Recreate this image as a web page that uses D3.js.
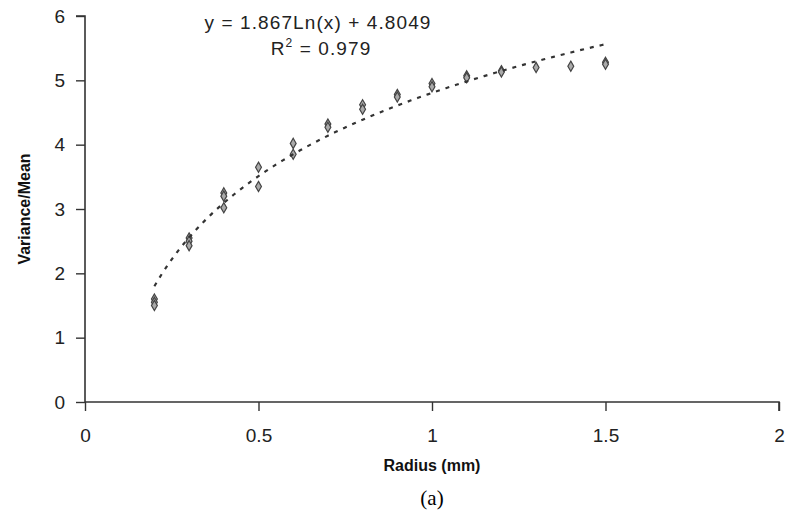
<!DOCTYPE html>
<html>
<head>
<meta charset="utf-8">
<script src="https://cdn.jsdelivr.net/npm/d3@7"></script>
<style>
  body { margin: 0; background: #fff; }
  svg { display: block; }
</style>
</head>
<body>
<div id="chart"></div>
<script>
// Variance/Mean vs radius, with Excel-style log trendline

const radius = [0.2, 0.2, 0.2, 0.3, 0.3, 0.3, 0.4, 0.4, 0.4, 0.5, 0.5, 0.6, 0.6,
                0.7, 0.7, 0.8, 0.8, 0.9, 0.9, 1.0, 1.0, 1.1, 1.1, 1.2, 1.2, 1.3, 1.4, 1.5, 1.5];
const ratio  = [1.60, 1.55, 1.50, 2.55, 2.50, 2.43, 3.25, 3.20, 3.02, 3.65, 3.35, 4.02, 3.85,
                4.32, 4.27, 4.62, 4.55, 4.78, 4.74, 4.95, 4.90, 5.07, 5.04, 5.15, 5.13, 5.20, 5.22, 5.28, 5.25];

const xTicks = [0, 0.5, 1, 1.5, 2];
const yTicks = [0, 1, 2, 3, 4, 5, 6];

const fitA = 1.867, fitB = 4.8049;
const fitLabel = "y = 1.867Ln(x) + 4.8049";
const r2Label  = "0.979";

const W = 790, H = 521;
const m = { top: 16, right: 11, bottom: 119, left: 85 };
const iw = W - m.left - m.right;
const ih = H - m.top - m.bottom;

const x = d3.scaleLinear().domain([0, 2]).range([0, iw]);
const y = d3.scaleLinear().domain([0, 6]).range([ih, 0]);

const svg = d3.select("#chart").append("svg")
  .attr("width", W).attr("height", H);

const g = svg.append("g").attr("transform", `translate(${m.left},${m.top})`);

const font = "'Liberation Sans', Arial, sans-serif";

// axes
const xAxis = g.append("g")
  .attr("transform", `translate(0,${ih})`)
  .call(d3.axisBottom(x).tickValues(xTicks).tickFormat(d3.format("")).tickSize(9).tickPadding(18));
const yAxis = g.append("g")
  .call(d3.axisLeft(y).tickValues(yTicks).tickFormat(d3.format("d")).tickSize(9).tickPadding(11));

[xAxis, yAxis].forEach(ax => {
  ax.select(".domain").attr("stroke", "#333").attr("stroke-width", 1.6);
  ax.selectAll(".tick line").attr("stroke", "#333").attr("stroke-width", 1.4);
  ax.selectAll("text")
    .attr("fill", "#222")
    .attr("font-size", "19px")
    .attr("font-family", font);
});
xAxis.select(".domain").attr("d", `M0,0H${iw}V9`);
yAxis.select(".domain").attr("d", `M-9,0H0V${ih}`);

// trendline
const fitX = d3.range(0.2, 1.5001, 0.01);
const line = d3.line()
  .x(d => x(d))
  .y(d => y(fitA * Math.log(d) + fitB));

// points
const sym = d3.symbol().type(d3.symbolDiamond).size(30);
g.selectAll("path.pt")
  .data(radius.map((r, i) => [r, ratio[i]]))
  .join("path")
    .attr("class", "pt")
    .attr("transform", d => `translate(${x(d[0])},${y(d[1])})`)
    .attr("d", sym)
    .attr("fill", "#aaa")
    .attr("stroke", "#444")
    .attr("stroke-width", 1.2);

g.append("path")
  .datum(fitX)
  .attr("d", line)
  .attr("fill", "none")
  .attr("stroke", "#333")
  .attr("stroke-width", 2.2)
  .attr("stroke-dasharray", "4,6");

// equation labels
g.append("text")
  .attr("x", 318 - m.left).attr("y", 29 - m.top)
  .attr("text-anchor", "middle")
  .attr("fill", "#222")
  .attr("font-size", "19px")
  .attr("letter-spacing", "1.1px")
  .attr("font-family", font)
  .text(fitLabel);

const r2 = g.append("text")
  .attr("x", 321 - m.left).attr("y", 55 - m.top)
  .attr("text-anchor", "middle")
  .attr("fill", "#222")
  .attr("font-size", "19px")
  .attr("letter-spacing", "1.1px")
  .attr("font-family", font);
r2.append("tspan").text("R");
r2.append("tspan").attr("dy", -8).attr("font-size", "12px").text("2");
r2.append("tspan").attr("dy", 8).text(" = " + r2Label);

// axis titles
svg.append("text")
  .attr("x", 432).attr("y", 471)
  .attr("text-anchor", "middle")
  .attr("font-size", "16px")
  .attr("font-weight", "bold")
  .attr("font-family", font)
  .attr("fill", "#111")
  .text("Radius (mm)");

svg.append("text")
  .attr("transform", "translate(30,209) rotate(-90)")
  .attr("text-anchor", "middle")
  .attr("font-size", "16px")
  .attr("font-weight", "bold")
  .attr("font-family", font)
  .attr("fill", "#111")
  .text("Variance/Mean");

svg.append("text")
  .attr("x", 432).attr("y", 505)
  .attr("text-anchor", "middle")
  .attr("font-size", "21px")
  .attr("font-family", "'Liberation Serif', 'Times New Roman', serif")
  .attr("fill", "#000")
  .text("(a)");
</script>
</body>
</html>
